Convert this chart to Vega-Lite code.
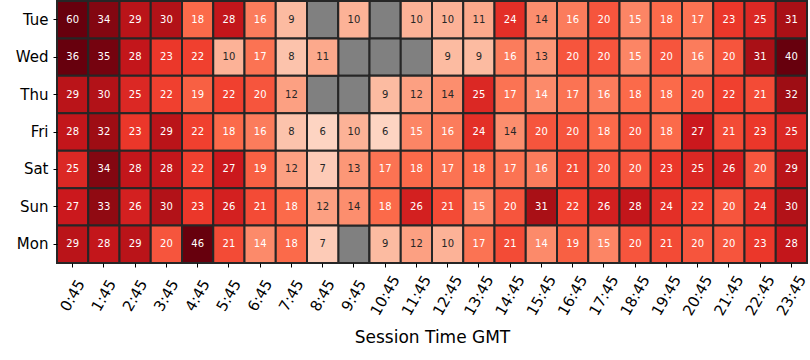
{
  "$schema": "https://vega.github.io/schema/vega-lite/v6.json",
  "width": 750,
  "height": 262,
  "padding": {"left": 15, "top": 0, "right": 0, "bottom": 0},
  "background": "white",
  "config": {"view": {"stroke": null}, "font": "DejaVu Sans"},
  "datasets": {
    "cells": [
      {"day":"Tue","time":"0:45","value":60},{"day":"Tue","time":"1:45","value":34},{"day":"Tue","time":"2:45","value":29},{"day":"Tue","time":"3:45","value":30},{"day":"Tue","time":"4:45","value":18},{"day":"Tue","time":"5:45","value":28},{"day":"Tue","time":"6:45","value":16},{"day":"Tue","time":"7:45","value":9},{"day":"Tue","time":"8:45","value":null},{"day":"Tue","time":"9:45","value":10},{"day":"Tue","time":"10:45","value":null},{"day":"Tue","time":"11:45","value":10},{"day":"Tue","time":"12:45","value":10},{"day":"Tue","time":"13:45","value":11},{"day":"Tue","time":"14:45","value":24},{"day":"Tue","time":"15:45","value":14},{"day":"Tue","time":"16:45","value":16},{"day":"Tue","time":"17:45","value":20},{"day":"Tue","time":"18:45","value":15},{"day":"Tue","time":"19:45","value":18},{"day":"Tue","time":"20:45","value":17},{"day":"Tue","time":"21:45","value":23},{"day":"Tue","time":"22:45","value":25},{"day":"Tue","time":"23:45","value":31},
      {"day":"Wed","time":"0:45","value":36},{"day":"Wed","time":"1:45","value":35},{"day":"Wed","time":"2:45","value":28},{"day":"Wed","time":"3:45","value":23},{"day":"Wed","time":"4:45","value":22},{"day":"Wed","time":"5:45","value":10},{"day":"Wed","time":"6:45","value":17},{"day":"Wed","time":"7:45","value":8},{"day":"Wed","time":"8:45","value":11},{"day":"Wed","time":"9:45","value":null},{"day":"Wed","time":"10:45","value":null},{"day":"Wed","time":"11:45","value":null},{"day":"Wed","time":"12:45","value":9},{"day":"Wed","time":"13:45","value":9},{"day":"Wed","time":"14:45","value":16},{"day":"Wed","time":"15:45","value":13},{"day":"Wed","time":"16:45","value":20},{"day":"Wed","time":"17:45","value":20},{"day":"Wed","time":"18:45","value":15},{"day":"Wed","time":"19:45","value":20},{"day":"Wed","time":"20:45","value":16},{"day":"Wed","time":"21:45","value":20},{"day":"Wed","time":"22:45","value":31},{"day":"Wed","time":"23:45","value":40},
      {"day":"Thu","time":"0:45","value":29},{"day":"Thu","time":"1:45","value":30},{"day":"Thu","time":"2:45","value":25},{"day":"Thu","time":"3:45","value":22},{"day":"Thu","time":"4:45","value":19},{"day":"Thu","time":"5:45","value":22},{"day":"Thu","time":"6:45","value":20},{"day":"Thu","time":"7:45","value":12},{"day":"Thu","time":"8:45","value":null},{"day":"Thu","time":"9:45","value":null},{"day":"Thu","time":"10:45","value":9},{"day":"Thu","time":"11:45","value":12},{"day":"Thu","time":"12:45","value":14},{"day":"Thu","time":"13:45","value":25},{"day":"Thu","time":"14:45","value":17},{"day":"Thu","time":"15:45","value":14.4},{"day":"Thu","time":"16:45","value":17},{"day":"Thu","time":"17:45","value":16},{"day":"Thu","time":"18:45","value":18},{"day":"Thu","time":"19:45","value":18},{"day":"Thu","time":"20:45","value":20},{"day":"Thu","time":"21:45","value":22},{"day":"Thu","time":"22:45","value":21},{"day":"Thu","time":"23:45","value":32},
      {"day":"Fri","time":"0:45","value":28},{"day":"Fri","time":"1:45","value":32},{"day":"Fri","time":"2:45","value":23},{"day":"Fri","time":"3:45","value":29},{"day":"Fri","time":"4:45","value":22},{"day":"Fri","time":"5:45","value":18},{"day":"Fri","time":"6:45","value":16},{"day":"Fri","time":"7:45","value":8},{"day":"Fri","time":"8:45","value":6},{"day":"Fri","time":"9:45","value":10},{"day":"Fri","time":"10:45","value":6},{"day":"Fri","time":"11:45","value":15},{"day":"Fri","time":"12:45","value":16},{"day":"Fri","time":"13:45","value":24},{"day":"Fri","time":"14:45","value":14},{"day":"Fri","time":"15:45","value":20},{"day":"Fri","time":"16:45","value":20},{"day":"Fri","time":"17:45","value":18},{"day":"Fri","time":"18:45","value":20},{"day":"Fri","time":"19:45","value":18},{"day":"Fri","time":"20:45","value":27},{"day":"Fri","time":"21:45","value":21},{"day":"Fri","time":"22:45","value":23},{"day":"Fri","time":"23:45","value":25},
      {"day":"Sat","time":"0:45","value":25},{"day":"Sat","time":"1:45","value":34},{"day":"Sat","time":"2:45","value":28},{"day":"Sat","time":"3:45","value":28},{"day":"Sat","time":"4:45","value":22},{"day":"Sat","time":"5:45","value":27},{"day":"Sat","time":"6:45","value":19},{"day":"Sat","time":"7:45","value":12},{"day":"Sat","time":"8:45","value":7},{"day":"Sat","time":"9:45","value":13},{"day":"Sat","time":"10:45","value":17},{"day":"Sat","time":"11:45","value":18},{"day":"Sat","time":"12:45","value":17},{"day":"Sat","time":"13:45","value":18},{"day":"Sat","time":"14:45","value":17},{"day":"Sat","time":"15:45","value":16},{"day":"Sat","time":"16:45","value":21},{"day":"Sat","time":"17:45","value":20},{"day":"Sat","time":"18:45","value":20},{"day":"Sat","time":"19:45","value":23},{"day":"Sat","time":"20:45","value":25},{"day":"Sat","time":"21:45","value":26},{"day":"Sat","time":"22:45","value":20},{"day":"Sat","time":"23:45","value":29},
      {"day":"Sun","time":"0:45","value":27},{"day":"Sun","time":"1:45","value":33},{"day":"Sun","time":"2:45","value":26},{"day":"Sun","time":"3:45","value":30},{"day":"Sun","time":"4:45","value":23},{"day":"Sun","time":"5:45","value":26},{"day":"Sun","time":"6:45","value":21},{"day":"Sun","time":"7:45","value":18},{"day":"Sun","time":"8:45","value":12},{"day":"Sun","time":"9:45","value":14},{"day":"Sun","time":"10:45","value":18},{"day":"Sun","time":"11:45","value":26},{"day":"Sun","time":"12:45","value":21},{"day":"Sun","time":"13:45","value":15},{"day":"Sun","time":"14:45","value":20},{"day":"Sun","time":"15:45","value":31},{"day":"Sun","time":"16:45","value":22},{"day":"Sun","time":"17:45","value":26},{"day":"Sun","time":"18:45","value":28},{"day":"Sun","time":"19:45","value":24},{"day":"Sun","time":"20:45","value":22},{"day":"Sun","time":"21:45","value":20},{"day":"Sun","time":"22:45","value":24},{"day":"Sun","time":"23:45","value":30},
      {"day":"Mon","time":"0:45","value":29},{"day":"Mon","time":"1:45","value":28},{"day":"Mon","time":"2:45","value":29},{"day":"Mon","time":"3:45","value":20},{"day":"Mon","time":"4:45","value":46},{"day":"Mon","time":"5:45","value":21},{"day":"Mon","time":"6:45","value":14.4},{"day":"Mon","time":"7:45","value":18},{"day":"Mon","time":"8:45","value":7},{"day":"Mon","time":"9:45","value":null},{"day":"Mon","time":"10:45","value":9},{"day":"Mon","time":"11:45","value":12},{"day":"Mon","time":"12:45","value":10},{"day":"Mon","time":"13:45","value":17},{"day":"Mon","time":"14:45","value":21},{"day":"Mon","time":"15:45","value":14.4},{"day":"Mon","time":"16:45","value":19},{"day":"Mon","time":"17:45","value":15},{"day":"Mon","time":"18:45","value":20},{"day":"Mon","time":"19:45","value":21},{"day":"Mon","time":"20:45","value":20},{"day":"Mon","time":"21:45","value":20},{"day":"Mon","time":"22:45","value":23},{"day":"Mon","time":"23:45","value":28}
    ]
  },
  "data": {"name": "cells"},
  "encoding": {
    "x": {
      "field": "time", "type": "ordinal",
      "sort": ["0:45","1:45","2:45","3:45","4:45","5:45","6:45","7:45","8:45","9:45","10:45","11:45","12:45","13:45","14:45","15:45","16:45","17:45","18:45","19:45","20:45","21:45","22:45","23:45"],
      "scale": {"paddingInner": 0, "paddingOuter": 0},
      "axis": {"title": "Session Time GMT", "titleFontSize": 17, "titleFontWeight": "normal", "titleColor": "#000", "titlePadding": 12,
               "labelAngle": -60, "labelAlign": "center", "labelBaseline": "middle", "labelFontSize": 15, "labelColor": "#000",
               "labelPadding": 28, "tickSize": 4, "tickColor": "#000", "domain": false}
    },
    "y": {
      "field": "day", "type": "ordinal",
      "sort": ["Tue","Wed","Thu","Fri","Sat","Sun","Mon"],
      "scale": {"paddingInner": 0, "paddingOuter": 0},
      "axis": {"title": null, "labelFontSize": 15, "labelColor": "#000", "labelPadding": 5, "tickSize": 4, "tickColor": "#000", "domain": false}
    }
  },
  "layer": [
    {
      "mark": {"type": "rect", "fill": "#808080", "stroke": "#262626", "strokeWidth": 2}
    },
    {
      "transform": [{"filter": "datum.value != null"}],
      "mark": {"type": "rect", "stroke": "#262626", "strokeWidth": 2},
      "encoding": {
        "color": {"field": "value", "type": "quantitative", "legend": null,
                  "scale": {"domain": [0, 4.5, 9, 13.5, 18, 22.5, 27, 31.5, 36],
                            "range": ["#fff5f0","#fee0d2","#fcbba1","#fc9272","#fb6a4a","#ef3b2c","#cb181d","#a50f15","#67000d"],
                            "interpolate": "rgb", "clamp": true}}
      }
    },
    {
      "transform": [{"filter": "datum.value != null"}],
      "mark": {"type": "text", "fontSize": 10},
      "encoding": {
        "text": {"field": "value", "type": "quantitative", "format": ".0f"},
        "color": {"condition": {"test": "datum.value >= 14.2", "value": "#ffffff"}, "value": "#262626"}
      }
    }
  ]
}
